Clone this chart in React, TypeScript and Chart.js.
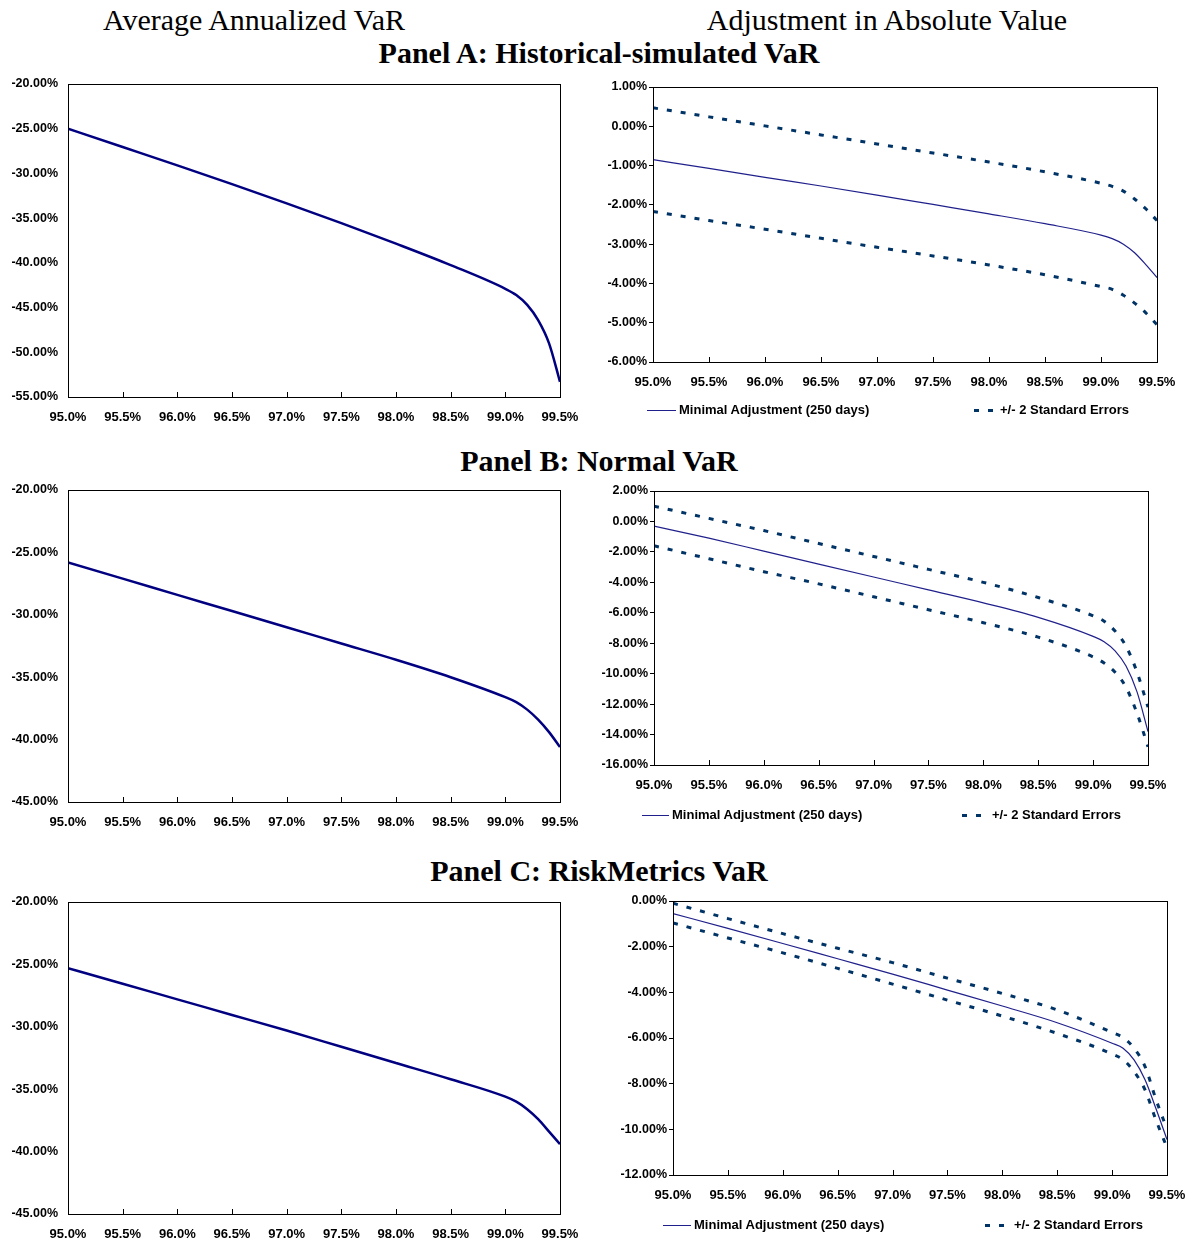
import React, { useEffect, useRef } from "react";
import { Chart, registerables } from "chart.js";

Chart.register(...registerables);

// ---------- data ----------
const xValues = [95.0, 95.5, 96.0, 96.5, 97.0, 97.5, 98.0, 98.5, 99.0, 99.1, 99.2, 99.3, 99.4, 99.5];
const xTickLabels = ["95.0%", "95.5%", "96.0%", "96.5%", "97.0%", "97.5%", "98.0%", "98.5%", "99.0%", "99.5%"];

// Panel A: Historical-simulated VaR
const panelAAverageVaR = [-25.0, -27.05, -29.1, -31.2, -33.35, -35.55, -37.85, -40.25, -42.9, -43.6, -44.7, -46.4, -49.0, -53.3];
const panelAMinimal = [-0.85, -1.07, -1.3, -1.52, -1.75, -1.99, -2.23, -2.48, -2.77, -2.86, -3.0, -3.22, -3.52, -3.85];
const panelAUpper = [0.47, 0.24, 0.01, -0.22, -0.45, -0.68, -0.91, -1.16, -1.45, -1.53, -1.65, -1.85, -2.1, -2.4];
const panelALower = [-2.17, -2.4, -2.62, -2.85, -3.08, -3.3, -3.53, -3.78, -4.08, -4.15, -4.3, -4.5, -4.75, -5.05];

// Panel B: Normal VaR
const panelBAverageVaR = [-25.8, -27.1, -28.4, -29.7, -31.0, -32.3, -33.6, -35.0, -36.6, -37.0, -37.6, -38.4, -39.4, -40.6];
const panelBMinimal = [-0.3, -1.1, -1.95, -2.8, -3.65, -4.5, -5.35, -6.3, -7.55, -7.9, -8.5, -9.5, -11.2, -13.8];
const panelBUpper = [1.0, 0.2, -0.6, -1.45, -2.3, -3.15, -4.0, -5.0, -6.2, -6.55, -7.2, -8.2, -9.9, -12.2];
const panelBLower = [-1.6, -2.45, -3.3, -4.1, -4.95, -5.8, -6.65, -7.6, -8.9, -9.3, -9.9, -10.9, -12.6, -14.8];

// Panel C: RiskMetrics VaR
const panelCAverageVaR = [-25.3, -26.55, -27.8, -29.05, -30.3, -31.6, -32.9, -34.2, -35.6, -36.0, -36.6, -37.4, -38.4, -39.4];
const panelCMinimal = [-0.55, -1.2, -1.86, -2.53, -3.2, -3.9, -4.6, -5.33, -6.23, -6.45, -6.96, -7.83, -9.1, -10.45];
const panelCUpper = [-0.1, -0.77, -1.43, -2.07, -2.7, -3.38, -4.05, -4.77, -5.76, -5.98, -6.45, -7.25, -8.7, -10.0];
const panelCLower = [-0.96, -1.62, -2.27, -2.95, -3.64, -4.34, -5.04, -5.8, -6.7, -6.95, -7.47, -8.27, -9.6, -10.8];

const leftTitle = "Average Annualized VaR";
const rightTitle = "Adjustment in Absolute Value";
const panelTitles = ["Panel A: Historical-simulated VaR", "Panel B: Normal VaR", "Panel C: RiskMetrics VaR"];
const legendLabels = ["Minimal Adjustment (250 days)", "+/- 2 Standard Errors"];

// ---------- styles ----------
const NAVY = "#000080";
const SOLID = "#20208c";
const DASHED = "#003366";
const SANS = "'Liberation Sans', Arial, sans-serif";
const SERIF = "'Liberation Serif', 'Times New Roman', serif";

type Series = { data: number[]; color: string; width: number; dash?: number[] };
type Spec = {
  plot: [number, number, number, number];
  yMin: number;
  yMax: number;
  yStep: number;
  yTicksOutside: boolean;
  series: Series[];
};

const framePlugin = {
  id: "frame",
  afterDraw(chart: any) {
    const { ctx, chartArea } = chart;
    const xs = chart.scales.x;
    ctx.save();
    ctx.strokeStyle = "#000";
    ctx.lineWidth = 1;
    ctx.strokeRect(
      Math.round(chartArea.left) + 0.5,
      Math.round(chartArea.top) + 0.5,
      Math.round(chartArea.right - chartArea.left),
      Math.round(chartArea.bottom - chartArea.top)
    );
    ctx.beginPath();
    const ticks = xs.ticks;
    for (let i = 1; i < ticks.length - 1; i++) {
      const px = Math.round(xs.getPixelForValue(ticks[i].value)) + 0.5;
      ctx.moveTo(px, chartArea.bottom);
      ctx.lineTo(px, chartArea.bottom - 5);
    }
    ctx.stroke();
    ctx.restore();
  },
};

const YW = 80;
const PT = 22;
const PR = 34;
const XH = 34;

function LineChart({ spec }: { spec: Spec }) {
  const ref = useRef<HTMLCanvasElement>(null);
  const [l, t, r, b] = spec.plot;
  const w = YW + (r - l) + PR;
  const h = PT + (b - t) + XH;
  useEffect(() => {
    const chart = new Chart(ref.current as HTMLCanvasElement, {
      type: "line",
      data: {
        datasets: spec.series.map((s) => ({
          data: xValues.map((x, i) => ({ x, y: s.data[i] })),
          borderColor: s.color,
          borderWidth: s.width,
          borderDash: s.dash ?? [],
          pointRadius: 0,
          fill: false,
          cubicInterpolationMode: "monotone" as const,
        })),
      },
      options: {
        animation: false,
        responsive: false,
        devicePixelRatio: 1,
        layout: { padding: { top: PT, right: PR, left: 0, bottom: 0 } },
        plugins: { legend: { display: false }, tooltip: { enabled: false } },
        scales: {
          x: {
            type: "linear",
            min: 95,
            max: 99.5,
            afterFit: (s: any) => {
              s.height = XH;
            },
            grid: { display: false, drawTicks: false },
            border: { display: false },
            ticks: {
              stepSize: 0.5,
              autoSkip: false,
              maxRotation: 0,
              padding: 13,
              color: "#000",
              font: { family: SANS, weight: "bold", size: 13 },
              callback: (_v: any, i: number) => xTickLabels[i],
            },
          },
          y: {
            type: "linear",
            min: spec.yMin,
            max: spec.yMax,
            afterFit: (s: any) => {
              s.width = YW;
            },
            grid: {
              display: spec.yTicksOutside,
              drawOnChartArea: false,
              drawTicks: spec.yTicksOutside,
              tickLength: 4,
              color: "#000",
            },
            border: { display: false },
            ticks: {
              stepSize: spec.yStep,
              autoSkip: false,
              padding: spec.yTicksOutside ? 2 : 10,
              color: "#000",
              font: { family: SANS, weight: "bold", size: 12.5 },
              callback: (v: any) => Number(v).toFixed(2) + "%",
            },
          },
        },
      },
      plugins: [framePlugin],
    });
    return () => chart.destroy();
  }, []);
  return (
    <canvas
      ref={ref}
      width={w}
      height={h}
      style={{ position: "absolute", left: l - YW, top: t - PT, width: w, height: h }}
    />
  );
}

const leftSeries = (d: number[]): Series[] => [{ data: d, color: NAVY, width: 2.5 }];
const rightSeries = (m: number[], u: number[], lo: number[]): Series[] => [
  { data: m, color: SOLID, width: 1.2 },
  { data: u, color: DASHED, width: 3, dash: [5, 9] },
  { data: lo, color: DASHED, width: 3, dash: [5, 9] },
];

const specs: Spec[] = [
  { plot: [68, 84, 560, 397], yMin: -55, yMax: -20, yStep: 5, yTicksOutside: false, series: leftSeries(panelAAverageVaR) },
  { plot: [653, 87, 1157, 362], yMin: -6, yMax: 1, yStep: 1, yTicksOutside: true, series: rightSeries(panelAMinimal, panelAUpper, panelALower) },
  { plot: [68, 490, 560, 802], yMin: -45, yMax: -20, yStep: 5, yTicksOutside: false, series: leftSeries(panelBAverageVaR) },
  { plot: [654, 491, 1148, 765], yMin: -16, yMax: 2, yStep: 2, yTicksOutside: true, series: rightSeries(panelBMinimal, panelBUpper, panelBLower) },
  { plot: [68, 902, 560, 1214], yMin: -45, yMax: -20, yStep: 5, yTicksOutside: false, series: leftSeries(panelCAverageVaR) },
  { plot: [673, 901, 1167, 1175], yMin: -12, yMax: 0, yStep: 2, yTicksOutside: true, series: rightSeries(panelCMinimal, panelCUpper, panelCLower) },
];

// legend layouts: [lineStart, lineEnd, textLeft, dashStart, text2Left, centerY]
const legends: number[][] = [
  [647, 676, 679, 974, 1000, 410],
  [642, 669, 672, 962, 992, 815],
  [663, 691, 694, 985, 1014, 1225],
];

function Title({ text, cx, cy, bold }: { text: string; cx: number; cy: number; bold?: boolean }) {
  return (
    <div
      style={{
        position: "absolute",
        left: cx - 400,
        width: 800,
        top: cy - 17,
        height: 34,
        lineHeight: "34px",
        textAlign: "center",
        fontFamily: SERIF,
        fontSize: 30,
        fontWeight: bold ? "bold" : "normal",
        color: "#000",
        whiteSpace: "nowrap",
      }}
    >
      {text}
    </div>
  );
}

function Legend({ cfg }: { cfg: number[] }) {
  const [ls, le, tl, ds, t2, cy] = cfg;
  const textStyle: React.CSSProperties = {
    position: "absolute",
    top: cy - 8,
    height: 16,
    lineHeight: "16px",
    fontFamily: SANS,
    fontWeight: "bold",
    fontSize: 13,
    color: "#000",
    whiteSpace: "nowrap",
  };
  return (
    <>
      <div style={{ position: "absolute", left: ls, top: cy, width: le - ls, height: 1, background: SOLID }} />
      <div style={{ ...textStyle, left: tl }}>{legendLabels[0]}</div>
      <div style={{ position: "absolute", left: ds, top: cy - 1, width: 5, height: 3, background: DASHED }} />
      <div style={{ position: "absolute", left: ds + 14, top: cy - 1, width: 5, height: 3, background: DASHED }} />
      <div style={{ ...textStyle, left: t2 }}>{legendLabels[1]}</div>
    </>
  );
}

export default function App() {
  return (
    <div style={{ position: "absolute", left: 0, top: 0, width: 1193, height: 1244, background: "#fff", overflow: "hidden" }}>
      <Title text={leftTitle} cx={254} cy={20} />
      <Title text={rightTitle} cx={887} cy={20} />
      <Title text={panelTitles[0]} cx={599} cy={53} bold />
      <Title text={panelTitles[1]} cx={599} cy={461} bold />
      <Title text={panelTitles[2]} cx={599} cy={871} bold />
      {specs.map((s, i) => (
        <LineChart key={i} spec={s} />
      ))}
      {legends.map((c, i) => (
        <Legend key={i} cfg={c} />
      ))}
    </div>
  );
}
